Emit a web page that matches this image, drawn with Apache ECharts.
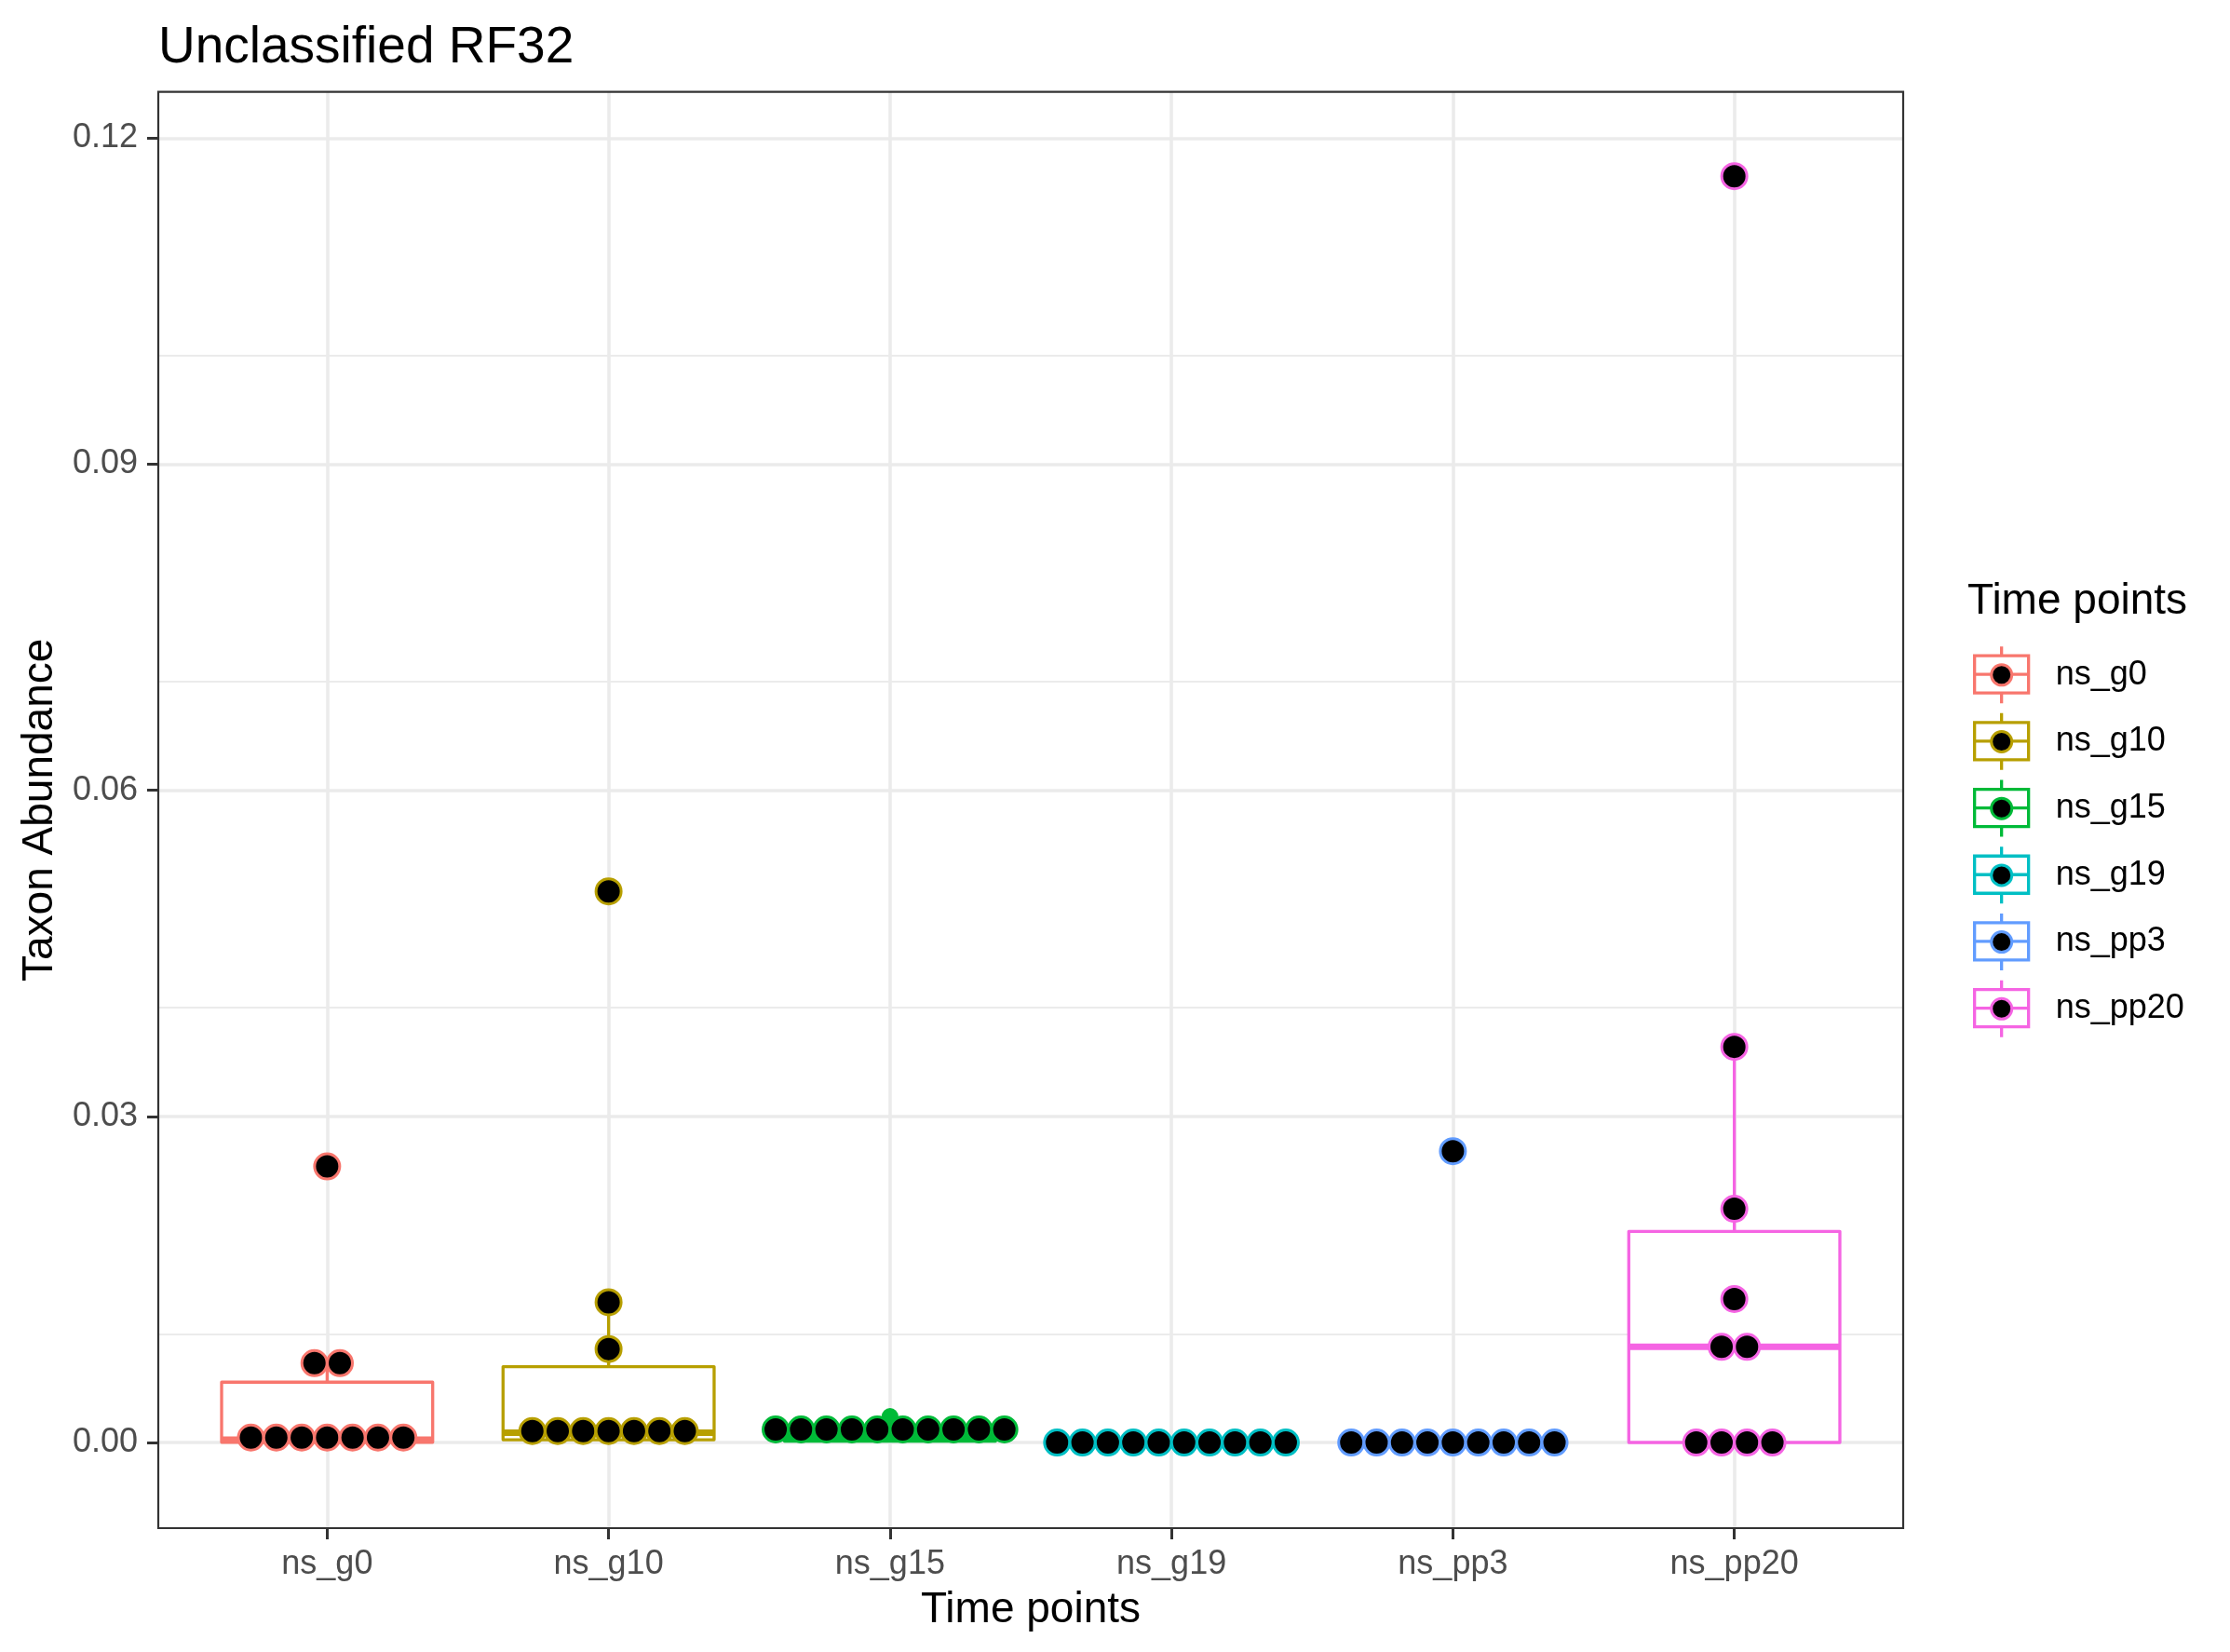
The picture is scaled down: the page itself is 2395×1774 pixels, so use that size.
<!DOCTYPE html>
<html><head><meta charset="utf-8">
<script src="https://cdn.jsdelivr.net/npm/echarts@6/dist/echarts.min.js"></script>
<style>html,body{margin:0;padding:0;background:#fff}#c{width:2395px;height:1774px}</style>
</head><body><div id="c"></div>
<script>
// ---------- data ----------
const categories = ['ns_g0', 'ns_g10', 'ns_g15', 'ns_g19', 'ns_pp3', 'ns_pp20'];
const ns_g0   = [0, 0, 0, 0.0001, 0.0002, 0.0003, 0.0009, 0.0071, 0.0075, 0.0254];
const ns_g10  = [0, 0.0001, 0.0002, 0.0004, 0.0008, 0.0010, 0.0021, 0.0086, 0.0129, 0.0507];
const ns_g15  = [0, 0.0001, 0.0001, 0.0002, 0.0003, 0.0004, 0.0005, 0.0007, 0.0009, 0.0024];
const ns_g19  = [0, 0, 0, 0, 0, 0, 0, 0, 0, 0];
const ns_pp3  = [0, 0, 0, 0, 0, 0, 0, 0, 0, 0.0268];
const ns_pp20 = [0, 0, 0, 0, 0.0086, 0.0090, 0.0132, 0.0215, 0.0364, 0.1165];
const yTicks = [0, 0.03, 0.06, 0.09, 0.12];
const yMinorGrid = [0.015, 0.045, 0.075, 0.105];
const xTicks = [0, 1, 2, 3, 4, 5];

// ---------- styles ----------
const colors = ['#F8766D', '#B79F00', '#00BA38', '#00BFC4', '#619CFF', '#F564E3'];
const FONT = '"Liberation Sans", Arial, Helvetica, sans-serif';
const BOX_WIDTH = 0.75;     // in category units
const BOX_LW = 3.3;
const MED_LW = 7;
const DOT_SIZE = 27;
const DOT_STEP = 0.0903;    // horizontal spacing of stacked dots, category units
const OUTLIER_SIZE = 18;

const groups = [ns_g0, ns_g10, ns_g15, ns_g19, ns_pp3, ns_pp20];

// ---------- stats ----------
function quantile(s, p) {
  const h = (s.length - 1) * p, lo = Math.floor(h), hi = Math.ceil(h);
  return s[lo] + (h - lo) * (s[hi] - s[lo]);
}
function boxStats(vals) {
  const s = vals.slice().sort((a, b) => a - b);
  const q1 = quantile(s, 0.25), med = quantile(s, 0.5), q3 = quantile(s, 0.75);
  const iqr = q3 - q1, lf = q1 - 1.5 * iqr, uf = q3 + 1.5 * iqr;
  const inside = s.filter(v => v >= lf && v <= uf);
  const out = s.filter(v => v < lf || v > uf);
  return { lw: inside[0], q1, med, q3, uw: inside[inside.length - 1], out };
}
const allVals = groups.flat();
const binwidth = (Math.max(...allVals) - Math.min(...allVals)) / 30;
function densityBins(vals, bw) {
  const s = vals.slice().sort((a, b) => a - b);
  const bins = []; let i = 0;
  while (i < s.length) {
    const start = s[i], b = [];
    while (i < s.length && s[i] < start + bw) { b.push(s[i]); i++; }
    bins.push({ center: (b[0] + b[b.length - 1]) / 2, count: b.length });
  }
  return bins;
}

const series = [];
// gridlines
series.push({
  type: 'scatter', data: [], z: 1, silent: true,
  markLine: {
    silent: true, z: 1, symbol: ['none', 'none'], animation: false,
    label: { show: false }, emphasis: { disabled: true },
    data: [
      ...yMinorGrid.map(v => ({ yAxis: v, lineStyle: { color: '#EBEBEB', width: 1.8, type: 'solid' } })),
      ...yTicks.map(v => ({ yAxis: v, lineStyle: { color: '#EBEBEB', width: 3.6, type: 'solid' } })),
      ...xTicks.map(v => ({ xAxis: v, lineStyle: { color: '#EBEBEB', width: 3.6, type: 'solid' } }))
    ]
  }
});

groups.forEach((vals, gi) => {
  const st = boxStats(vals);
  const c = colors[gi];
  series.push({
    name: categories[gi], type: 'custom', z: 2, silent: true,
    data: [[gi, st.lw, st.q1, st.med, st.q3, st.uw]],
    renderItem: function (params, api) {
      const idx = api.value(0);
      const pL = api.coord([idx, api.value(1)]);
      const p1 = api.coord([idx, api.value(2)]);
      const pM = api.coord([idx, api.value(3)]);
      const p3 = api.coord([idx, api.value(4)]);
      const pU = api.coord([idx, api.value(5)]);
      const half = api.size([BOX_WIDTH, 0])[0] / 2;
      return {
        type: 'group',
        children: [
          { type: 'line', shape: { x1: p3[0], y1: p3[1], x2: pU[0], y2: pU[1] }, style: { stroke: c, lineWidth: BOX_LW } },
          { type: 'line', shape: { x1: p1[0], y1: p1[1], x2: pL[0], y2: pL[1] }, style: { stroke: c, lineWidth: BOX_LW } },
          { type: 'rect', shape: { x: p1[0] - half, y: p3[1], width: 2 * half, height: p1[1] - p3[1] }, style: { fill: '#fff', stroke: c, lineWidth: BOX_LW, lineJoin: 'round' } },
          { type: 'line', shape: { x1: pM[0] - half, y1: pM[1], x2: pM[0] + half, y2: pM[1] }, style: { stroke: c, lineWidth: MED_LW } }
        ]
      };
    }
  });
  series.push({
    name: categories[gi], type: 'scatter', z: 3, silent: true,
    symbolSize: OUTLIER_SIZE, itemStyle: { color: c, opacity: 1 },
    data: st.out.map(v => [gi, v])
  });
  const dots = [];
  densityBins(vals, binwidth).forEach(b => {
    for (let k = 0; k < b.count; k++) dots.push([gi + (k - (b.count - 1) / 2) * DOT_STEP, b.center]);
  });
  series.push({
    name: categories[gi], type: 'scatter', z: 4, silent: true,
    symbolSize: DOT_SIZE,
    itemStyle: { color: '#000', borderColor: c, borderWidth: 3, opacity: 1 },
    data: dots
  });
});

const BOX_ICON = 'path://M29,0L29,10M0,10L58,10L58,50L0,50ZM0,30L58,30M29,50L29,61';

const option = {
  animation: false,
  backgroundColor: '#fff',
  title: [
    { text: 'Unclassified RF32', left: 170, top: 24, padding: 0,
      textStyle: { fontSize: 55, fontWeight: 'normal', color: '#000', fontFamily: FONT, lineHeight: 55 } },
    { text: 'Time points', left: 2113, top: 623, padding: 0,
      textStyle: { fontSize: 46, fontWeight: 'normal', color: '#000', fontFamily: FONT, lineHeight: 46 } }
  ],
  grid: { left: 170, right: 351, top: 98.7, bottom: 133, show: true, z: 10,
          borderColor: '#333333', borderWidth: 2.2, backgroundColor: 'transparent' },
  legend: [
    { id: 'lgBox', orient: 'vertical', left: 2119, top: 692.5, padding: 0,
      itemWidth: 58, itemHeight: 61, itemGap: 7.4, selectedMode: false,
      data: categories.map((n, i) => ({ name: n, icon: BOX_ICON,
        itemStyle: { color: '#fff', borderColor: colors[i], borderWidth: 3.3 } })),
      textStyle: { fontSize: 36, color: '#000', fontFamily: FONT, padding: [0, 0, 0, 24] } },
    { id: 'lgDot', orient: 'vertical', left: 2137.2, top: 712.3, padding: 0, z: 6,
      itemWidth: 22, itemHeight: 22, itemGap: 46.7, selectedMode: false,
      data: categories.map((n, i) => ({ name: n, icon: 'circle',
        itemStyle: { color: '#000', borderColor: colors[i], borderWidth: 3 } })),
      formatter: () => ' ',
      textStyle: { fontSize: 1, lineHeight: 1 } }
  ],
  xAxis: {
    type: 'value', min: -0.6, max: 5.6,
    name: 'Time points', nameLocation: 'middle', nameGap: 65.5,
    nameTextStyle: { fontSize: 46, color: '#000', fontFamily: FONT, lineHeight: 46 },
    axisLine: { show: false, onZero: false },
    splitLine: { show: false },
    axisTick: { show: true, length: 12, customValues: xTicks, lineStyle: { color: '#333333', width: 3 } },
    axisLabel: { customValues: xTicks, margin: 21.5, fontSize: 36, color: '#4D4D4D', fontFamily: FONT, lineHeight: 36,
      formatter: v => categories[Math.round(v)] }
  },
  yAxis: {
    type: 'value', min: -0.00788, max: 0.12425,
    name: 'Taxon Abundance', nameLocation: 'middle', nameRotate: 90, nameGap: 104,
    nameTextStyle: { fontSize: 46, color: '#000', fontFamily: FONT, lineHeight: 46 },
    axisLine: { show: false, onZero: false },
    splitLine: { show: false },
    axisTick: { show: true, length: 12, customValues: yTicks, lineStyle: { color: '#333333', width: 3 } },
    axisLabel: { customValues: yTicks, margin: 22, fontSize: 36, color: '#4D4D4D', fontFamily: FONT,
      formatter: v => v.toFixed(2) }
  },
  series: series
};
const chart = echarts.init(document.getElementById('c'), null, { renderer: 'canvas' });
chart.setOption(option);
</script>
</body></html>
